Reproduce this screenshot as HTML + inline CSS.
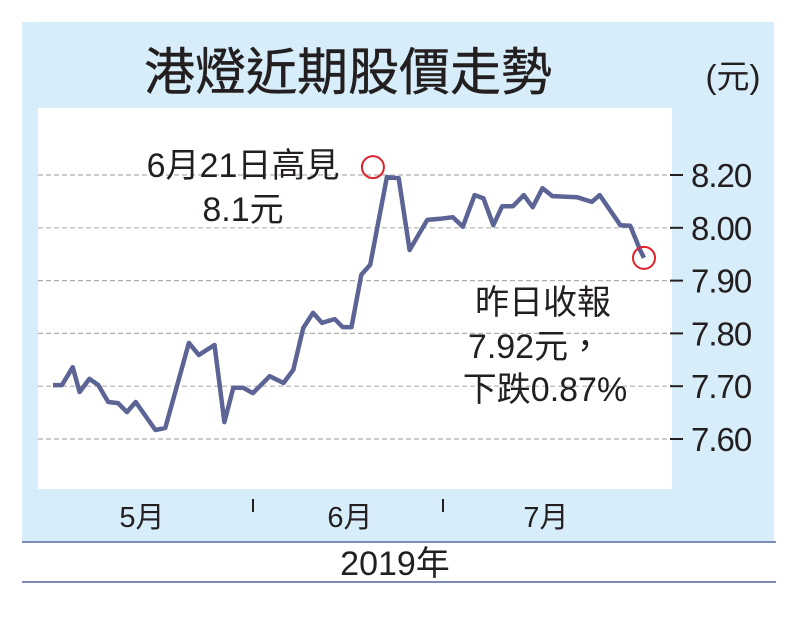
<!DOCTYPE html>
<html><head><meta charset="utf-8"><style>
body{margin:0;background:#fff;}
svg text{font-family:"Liberation Sans","Noto Sans CJK TC",sans-serif;fill:#231f20;}
</style></head><body>
<svg width="800" height="618" viewBox="0 0 800 618" xmlns="http://www.w3.org/2000/svg">
<rect x="22" y="22" width="752" height="520" fill="#d7eefa"/>
<rect x="38" y="108" width="634" height="381" fill="#fff"/>
<text x="348" y="90" font-size="51" text-anchor="middle" stroke="#231f20" stroke-width="0.4">港燈近期股價走勢</text>
<text x="733" y="88" font-size="33" text-anchor="middle">(元)</text>
<g id="grid"></g>
<g id="yaxis"></g>
<path id="line" fill="none" stroke="#5b6494" stroke-width="4.5" stroke-linejoin="round"/>
<circle id="hi" r="11" fill="none" stroke="#e0202a" stroke-width="2"/>
<circle id="last" r="11" fill="none" stroke="#e0202a" stroke-width="2"/>
<g>
<text x="243" y="177" font-size="34" text-anchor="middle">6月21日高見</text>
<text x="243" y="221" font-size="34" text-anchor="middle">8.1元</text>
</g>
<g>
<text x="543" y="314" font-size="34" text-anchor="middle">昨日收報</text>
<text x="535" y="358" font-size="34" text-anchor="middle">7.92元，</text>
<text x="545" y="401" font-size="34" text-anchor="middle">下跌0.87%</text>
</g>
<g>
<text x="142" y="527" font-size="29" text-anchor="middle">5月</text>
<text x="350" y="527" font-size="29" text-anchor="middle">6月</text>
<text x="546" y="527" font-size="29" text-anchor="middle">7月</text>
<line x1="253" y1="499" x2="253" y2="512" stroke="#231f20" stroke-width="2"/>
<line x1="443" y1="499" x2="443" y2="512" stroke="#231f20" stroke-width="2"/>
</g>
<line x1="22" y1="542" x2="776" y2="542" stroke="#7b8db5" stroke-width="2"/>
<line x1="22" y1="582" x2="776" y2="582" stroke="#7b8db5" stroke-width="2"/>
<text x="395" y="575" font-size="34" text-anchor="middle">2019年</text>
</svg>
<script>
const tickValues=[8.10,8.00,7.90,7.80,7.70,7.60];
const tickLabels=["8.20","8.00","7.90","7.80","7.70","7.60"];
const days=[0,0.9,2.0,2.7,3.7,4.6,5.6,6.6,7.5,8.4,10.4,11.4,13.8,14.8,16.4,17.4,18.3,19.3,20.3,22.0,23.4,24.4,25.4,26.4,27.3,28.6,29.4,30.3,31.3,32.2,33.9,35.1,36.2,38.0,39.3,40.6,41.6,42.8,43.7,44.7,45.6,46.7,47.8,48.7,49.7,50.7,53.2,54.7,55.5,57.6,58.6,59.6,60.0];
const prices=[7.702,7.702,7.736,7.689,7.714,7.702,7.670,7.668,7.651,7.670,7.617,7.621,7.782,7.759,7.778,7.632,7.697,7.697,7.687,7.719,7.706,7.731,7.810,7.839,7.820,7.827,7.812,7.812,7.911,7.930,8.096,8.094,7.958,8.015,8.017,8.020,8.002,8.062,8.056,8.005,8.041,8.041,8.062,8.039,8.075,8.060,8.058,8.049,8.062,8.005,8.004,7.958,7.943];
function xs(d){return 53+d*(644-53)/60;}
function ys(v){return 439-(v-7.60)*528;}
const NS="http://www.w3.org/2000/svg";
const grid=document.getElementById('grid'),ya=document.getElementById('yaxis');
tickValues.forEach((v,i)=>{
 const y=ys(v);
 const g=document.createElementNS(NS,'line');
 
 
 g.setAttribute('x1',38);g.setAttribute('x2',672);g.setAttribute('y1',y);g.setAttribute('y2',y);
 g.setAttribute('stroke','#b0b0b0');g.setAttribute('stroke-width','1.2');g.setAttribute('stroke-dasharray','5 3');
 grid.appendChild(g);
 const t=document.createElementNS(NS,'line');
 
 
 t.setAttribute('x1',670);t.setAttribute('x2',683);t.setAttribute('y1',y);t.setAttribute('y2',y);
 t.setAttribute('stroke','#231f20');t.setAttribute('stroke-width','2');
 ya.appendChild(t);
 const l=document.createElementNS(NS,'text');
 
 
 l.setAttribute('x',691);l.setAttribute('y',y+12);l.setAttribute('font-size','33');
 l.setAttribute('letter-spacing','-1');
 l.textContent=tickLabels[i];
 ya.appendChild(l);
});
let d='';
days.forEach((dd,i)=>{d+=(i?'L':'M')+xs(dd).toFixed(1)+','+ys(prices[i]).toFixed(1);});
document.getElementById('line').setAttribute('d',d);
let hi=0;prices.forEach((p,i)=>{if(p>prices[hi])hi=i;});
const h=document.getElementById('hi');h.setAttribute('cx',xs(days[hi])-14);h.setAttribute('cy',ys(prices[hi])-10);
const L=document.getElementById('last');L.setAttribute('cx',xs(days[days.length-1]));L.setAttribute('cy',ys(prices[prices.length-1]));
</script>
</body></html>
